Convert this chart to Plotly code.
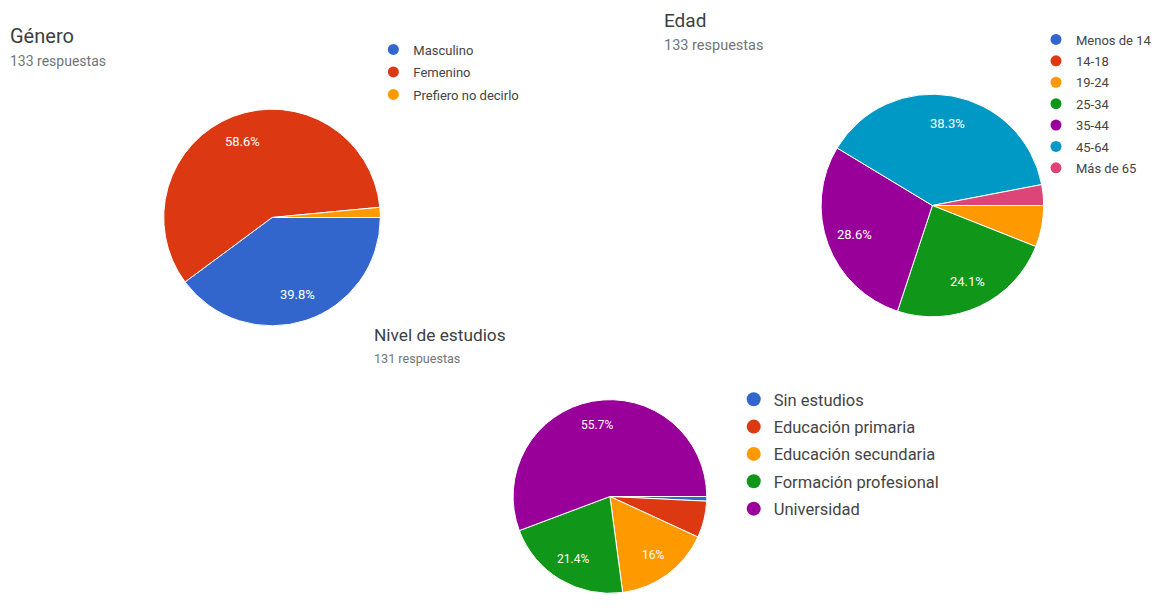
import math
import plotly.graph_objects as go

W, H = 1157, 614

# ---------------- data ----------------
genero_labels = ["Masculino", "Femenino", "Prefiero no decirlo"]
genero_values = [53, 78, 2]

edad_labels = ["Menos de 14", "14-18", "19-24", "25-34", "35-44", "45-64", "Más de 65"]
edad_values = [0, 0, 8, 32, 38, 51, 4]

estudios_labels = ["Sin estudios", "Educación primaria", "Educación secundaria",
                   "Formación profesional", "Universidad"]
estudios_values = [1, 8, 21, 28, 73]

palette = ["#3366cc", "#dc3912", "#ff9900", "#109618", "#990099", "#0099c6", "#dd4477"]

FONT = "Roboto, Arial, sans-serif"


def dom(cx, cy, r):
    return dict(x=[(cx - r) / W, (cx + r) / W], y=[1 - (cy + r) / H, 1 - (cy - r) / H])


def fmt_pct(p):
    s = f"{p:.1f}"
    if s.endswith(".0"):
        s = s[:-2]
    return s + "%"


fig = go.Figure()

# (labels, values, centre-x, centre-y, radius, legend id, text size, marker size)
charts = [
    (genero_labels, genero_values, 272.5, 217.5, 108.5, "legend", 13, 11),
    (edad_labels, edad_values, 934, 205.5, 111.5, "legend2", 13, 11),
    (estudios_labels, estudios_values, 611, 496.5, 97, "legend3", 12, 14),
]

START = 90.0  # first slice starts at 3 o'clock, clockwise

for labels, values, cx, cy, r, lg, tsize, msize in charts:
    fig.add_trace(go.Pie(
        labels=labels, values=values, domain=dom(cx, cy, r), sort=False,
        direction="clockwise", rotation=START, showlegend=False,
        marker=dict(colors=palette[:len(labels)], line=dict(color="white", width=1)),
        textinfo="none", hoverinfo="label+value+percent",
    ))
    # percentage labels, placed at 3/4 of the radius on each slice's mid-angle
    tot = sum(values)
    acc = 0.0
    for v in values:
        p = 100.0 * v / tot
        mid = START + 360.0 * (acc + v / 2.0) / tot
        acc += v
        if p < 10.0:
            continue
        th = math.radians(mid)
        px = cx + 0.75 * r * math.sin(th)
        py = cy - 0.75 * r * math.cos(th)
        fig.add_annotation(text=fmt_pct(p), x=px / W, y=1 - py / H, xref="paper",
                           yref="paper", showarrow=False, xanchor="center",
                           yanchor="middle",
                           font=dict(size=tsize, color="white", family=FONT))
    for i, lab in enumerate(labels):
        fig.add_trace(go.Scatter(
            x=[None], y=[None], mode="markers", name=lab, legend=lg,
            legendgroup=lg + str(i),
            marker=dict(symbol="circle", color=palette[i], size=msize),
            hoverinfo="skip",
        ))

# ---------------- titles ----------------
# (title, x, y, title size, n, subtitle y, subtitle size)
titles = [
    ("Género", 8, 36, 20, 133, 61, 14),
    ("Edad", 663, 20, 19, 133, 45, 14.5),
    ("Nivel de estudios", 373, 335, 17.3, 131, 358, 12.6),
]
for t, x, y, ts, n, y2, ss in titles:
    fig.add_annotation(text=t, x=x / W, y=1 - y / H, xref="paper", yref="paper",
                       xanchor="left", yanchor="middle", showarrow=False,
                       font=dict(size=ts, color="#3c4043", family=FONT))
    fig.add_annotation(text=f"{n} respuestas", x=x / W, y=1 - y2 / H, xref="paper",
                       yref="paper", xanchor="left", yanchor="middle", showarrow=False,
                       font=dict(size=ss, color="#70757a", family=FONT))

leg_common = dict(bgcolor="rgba(0,0,0,0)", xanchor="left", yanchor="top",
                  itemclick=False, itemdoubleclick=False)

fig.update_layout(
    width=W, height=H,
    margin=dict(l=0, r=0, t=0, b=0),
    paper_bgcolor="white", plot_bgcolor="white",
    xaxis=dict(visible=False), yaxis=dict(visible=False),
    legend=dict(x=374 / W, y=1 - 34.5 / H, tracegroupgap=2.6,
                font=dict(size=13, color="#444444", family=FONT), **leg_common),
    legend2=dict(x=1038 / W, y=1 - 24.5 / H, tracegroupgap=1.5,
                 font=dict(size=13, color="#444444", family=FONT), **leg_common),
    legend3=dict(x=735 / W, y=1 - 382 / H, tracegroupgap=2.9,
                 font=dict(size=16.5, color="#444444", family=FONT), **leg_common),
    showlegend=True,
)

fig.write_html(
    "out.html",
    config={"displayModeBar": False},
    post_script="document.body.style.margin='0';document.body.style.overflow='hidden';",
)
